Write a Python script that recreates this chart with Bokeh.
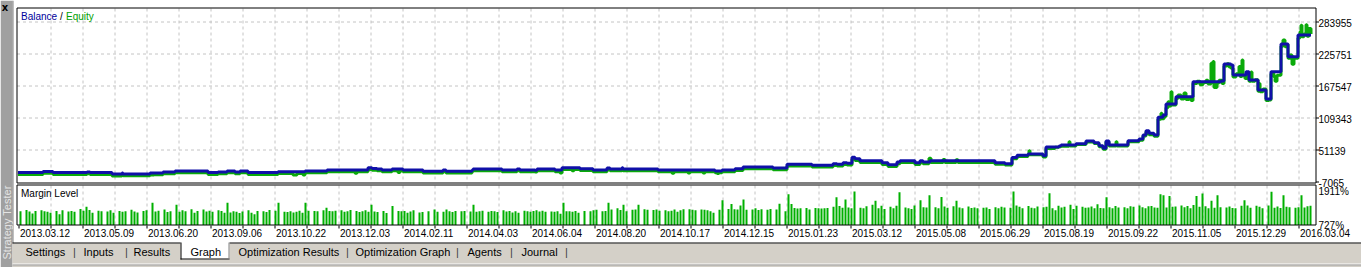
import math
from bokeh.plotting import figure
from bokeh.models import Range1d
from bokeh.core.properties import value
from bokeh.embed import file_html
from bokeh.resources import INLINE

# ---------------- data ----------------
date_labels = ["2013.03.12", "2013.05.09", "2013.06.20", "2013.09.06", "2013.10.22",
               "2013.12.03", "2014.02.11", "2014.04.03", "2014.06.04", "2014.08.20",
               "2014.10.17", "2014.12.15", "2015.01.23", "2015.03.12", "2015.05.08",
               "2015.06.29", "2015.08.19", "2015.09.22", "2015.11.05", "2015.12.29",
               "2016.03.04"]
y_ticks = [-7065, 51139, 109343, 167547, 225751, 283955]
margin_ticks = [727, 1911]

bal_x = [-1, 24, 34, 68, 71, 93, 103, 104, 131, 144, 156, 189, 199, 208, 216, 221, 229,
         259, 286, 308, 349, 353, 358, 363, 373, 384, 404, 424, 427, 453, 454, 483, 498,
         501, 516, 518, 536, 543, 561, 574, 588, 591, 603, 604, 639, 696, 703, 716, 724,
         754, 768, 793, 814, 818, 824, 828, 833, 836, 841, 863, 869, 878, 881, 896, 901,
         904, 911, 976, 986, 993, 998, 1009, 1024, 1027, 1040, 1042, 1057, 1067, 1075,
         1080, 1084, 1087, 1090, 1109, 1120, 1124, 1127, 1130, 1135, 1139, 1144, 1147,
         1157, 1174, 1202, 1205, 1212, 1214, 1227, 1230, 1239, 1247, 1252, 1262, 1269,
         1279, 1292]
balance = [10000, 12000, 10000, 11200, 10000, 7600, 9500, 7600, 9400, 11000, 12900, 10000,
           11300, 12900, 11300, 12900, 10000, 11600, 12900, 14700, 18900, 17700, 16500,
           14700, 16500, 14700, 12400, 14700, 12400, 14700, 16500, 14700, 16500, 14700,
           14200, 16500, 14700, 18900, 17100, 14700, 18400, 16500, 18900, 16500, 14700,
           12900, 14700, 17100, 20200, 18400, 25100, 23300, 26300, 25100, 28000, 26900,
           37900, 35300, 31700, 28000, 24400, 29300, 31700, 28000, 31700, 29300, 31700,
           28000, 26300, 37300, 41500, 43900, 40500, 56600, 58400, 60200, 62600, 67500,
           64400, 59000, 54200, 67500, 60200, 68100, 71200, 78400, 86300, 81500, 78400,
           110600, 114800, 134800, 148100, 175400, 176500, 207600, 205800, 187600, 193600,
           178500, 160300, 143900, 193600, 244000, 220900, 260300, 260300]

eq_x = [-1, 24, 34, 68, 71, 93, 103, 104, 131, 135, 144, 156, 189, 199, 208, 216, 221, 229,
        259, 274, 278, 284, 286, 308, 336, 338, 349, 353, 358, 363, 373, 379, 381, 384, 404,
        424, 427, 453, 454, 483, 498, 501, 516, 518, 536, 541, 543, 553, 555, 561, 574, 588,
        591, 603, 604, 639, 653, 655, 669, 671, 684, 686, 696, 698, 700, 703, 716, 724, 754,
        768, 793, 814, 818, 824, 828, 833, 836, 841, 863, 869, 878, 881, 896, 901, 904, 910,
        912, 924, 926, 937, 939, 976, 986, 993, 998, 1009, 1010, 1011, 1024, 1027, 1036,
        1040, 1042, 1050, 1051, 1057, 1067, 1075, 1080, 1084, 1087, 1090, 1097, 1098, 1109,
        1120, 1124, 1127, 1130, 1135, 1139, 1142, 1143, 1145, 1147, 1149, 1150, 1152, 1153,
        1157, 1159, 1162, 1165, 1167, 1170, 1172, 1174, 1178, 1181, 1184, 1187, 1189, 1192,
        1193, 1194, 1195, 1198, 1200, 1203, 1205, 1208, 1210, 1212, 1214, 1217, 1220, 1221,
        1223, 1224, 1226, 1228, 1230, 1232, 1233, 1236, 1239, 1240, 1241, 1244, 1247, 1250,
        1252, 1255, 1256, 1258, 1262, 1264, 1266, 1268, 1269, 1271, 1273, 1275, 1279, 1281,
        1282, 1283, 1285, 1287, 1288, 1290, 1292]
equity = [6800, 8800, 6800, 8000, 6800, 4000, 6000, 4200, 5500, 6200, 7800, 9700, 6800,
          8100, 9700, 8100, 9700, 6800, 8400, 5500, 8400, 5500, 9700, 11500, 9000, 11500,
          15700, 14500, 13300, 11500, 13300, 10000, 13300, 11500, 9100, 11500, 9200, 11500,
          13300, 11500, 13300, 11500, 11200, 13300, 11500, 9500, 15700, 13500, 15700, 14000,
          11500, 15200, 13300, 15700, 13300, 11500, 9000, 11500, 9500, 11500, 9500, 11500,
          9700, 8500, 9700, 11500, 14000, 17000, 15200, 21900, 20100, 23100, 21900, 24900,
          23700, 34700, 32200, 28500, 24800, 21200, 26000, 28500, 24800, 28500, 26100, 36000,
          28500, 34000, 28500, 33500, 28500, 25000, 24000, 35000, 39500, 42000, 50000, 42500,
          38500, 54000, 56000, 57000, 58000, 66000, 58500, 61000, 65500, 63000, 57000, 52500,
          65500, 58500, 66000, 58500, 66000, 69000, 76500, 84000, 79000, 76000, 107000,
          118000, 108000, 112000, 128000, 139000, 131000, 157000, 133000, 145000, 151000,
          144000, 155000, 143000, 146000, 141000, 172000, 176000, 170000, 174000, 178000,
          171000, 209000, 176000, 212000, 165000, 173000, 178000, 172000, 204000, 208000,
          202000, 200000, 184000, 190000, 203000, 185000, 215000, 186000, 181000, 190000,
          176000, 193000, 176000, 179000, 158000, 172000, 157000, 162000, 141000, 142000,
          190000, 184000, 176000, 187000, 240000, 251000, 239000, 243000, 218000, 224000,
          207000, 218000, 255000, 266000, 278000, 257000, 262000, 279000, 258000, 272000,
          262000]

# margin level per deal slot, % (0 = no bar)
margin_level = [
    1200, 0, 1240, 1190, 1120, 1210, 0, 1230, 1200, 1180,
    1150, 0, 1210, 1100, 1230, 0, 1190, 1210, 1180, 0,
    1280, 1220, 1350, 1240, 1150, 0, 1220, 1200, 0, 1190,
    1230, 1150, 0, 1210, 1180, 1200, 0, 1250, 1190, 1160,
    0, 1210, 1230, 0, 1490, 1190, 1220, 0, 1260, 1170,
    1200, 0, 1420, 1180, 1230, 1200, 0, 1270, 1150, 1210,
    0, 1260, 1190, 1220, 1180, 0, 1230, 1210, 1150, 1490,
    1160, 1200, 1180, 1140, 1190, 0, 1230, 1150, 1100, 1210,
    0, 1200, 1170, 1240, 0, 1220,
    1490, 0, 1180, 1170, 1200, 1160, 1180, 1220, 1150, 1490,
    1220, 0, 1210, 1200, 0, 1230, 1320, 1210, 1200, 1220,
    0, 1230, 1180, 1200, 1240, 0, 1210, 1170, 1200, 1230,
    1180, 1420, 1190, 1170, 0, 1210, 1140, 0, 1380, 0,
    1210, 1200, 1210, 1150, 1190, 1230, 0, 1160, 1170, 0,
    1200, 0, 1260, 1180, 0, 1180, 1260, 1200, 1170, 1210,
    0, 1200, 1210, 0, 1190, 1420, 1180, 1200, 1220, 0,
    1180, 1210, 1200, 1170, 0, 1230, 1190, 1210, 1160, 1200,
    1150, 0, 1220, 1200, 1180, 1210,
    1230, 1190, 1220, 1180, 0, 1190, 1180, 1200, 1110, 1490,
    1200, 1200, 1180, 1210, 1150, 0, 1210, 0, 1200, 1230,
    1250, 0, 1200, 1210, 1490, 1260, 0, 1300, 1240, 1420,
    1200, 0, 1250, 1260, 1420, 0, 1270, 1250, 0, 1240,
    1260, 1220, 0, 1230, 1200, 1220, 1260, 1180, 1230, 1270,
    0, 1270, 1250, 1230, 0, 1260, 1250, 1230, 1200, 1150,
    0, 1250, 1580, 0, 1280, 1450, 1270, 1260, 1400, 1600,
    1250, 0, 1260, 1300, 1240, 1270, 0, 1250, 1280, 0,
    1260, 1460, 0, 1200, 1780, 1450,
    1310, 1290, 1300, 0, 1310, 1260, 0, 1310, 1300, 1290,
    1300, 1310, 0, 1350, 1680, 1380, 1320, 1600, 1330, 1300,
    1880, 0, 1320, 1300, 1370, 0, 1420, 1560, 1300, 1390,
    1280, 0, 1350, 1300, 1390, 1850, 0, 1330, 1300, 1280,
    1400, 0, 1580, 1340, 1330, 1750, 0, 1340, 1300, 1690,
    1360, 1320, 0, 1370, 1560, 1330, 1300, 0, 1360, 1310,
    1330, 1300, 0, 1320, 1330, 1280, 0, 1340, 1300, 1350,
    1330, 0, 1320, 1880, 1400, 1350, 1300, 0, 1380, 1320,
    1300, 1360, 0, 1340, 1350, 1820,
    1300, 1230, 1390, 1330, 1350, 0, 1420, 1280, 1390, 0,
    1350, 1320, 1330, 1360, 1300, 1440, 1310, 1300, 1680, 1340,
    1300, 1380, 1330, 0, 1340, 1300, 1370, 1350, 0, 1400,
    1340, 1300, 1370, 1380, 1330, 1320, 1780, 1750, 1330, 1720,
    1350, 1360, 0, 1400, 1340, 1380, 1300, 1410, 1720, 1350,
    1810, 1370, 1300, 1560, 1320, 1750, 1340, 0, 1330, 1360,
    1310, 1300, 0, 1390, 1580, 1400, 1320, 0, 1390, 1350,
    1300, 0, 1400, 1870, 1320, 1360, 1310, 1750, 1350, 1340,
    0, 1320, 1340, 1750, 1330, 1370, 1390,
]

tab_labels = ["Settings", "Inputs", "Results", "Graph", "Optimization Results",
              "Optimization Graph", "Agents", "Journal"]

# ---------------- layout (pixels) ----------------
W, H = 1361, 267
X_ORIGIN = 18.5          # pixel centre of x = 0
GRID_PX = 32             # vertical grid spacing
LABEL_EVERY = 2          # date label every second grid line
ROW_Y0 = 181.5           # row of first y tick
ROW_PER_TICK = 32.0
ML_ROW_BOT, ML_ROW_TOP = 224.5, 190.0
FRAME_L, FRAME_R = 16.5, 1315.5
MAIN_T, MAIN_B = 7.5, 182.5
ML_T, ML_B = 184.5, 224.5
SLOT = 3                 # deal slot width in x units

CHART_FONT = value("Liberation Sans")
TAB_FONT = value("Liberation Sans")
CHART_SIZE = "10px"
BLUE = "#1010a8"
GREEN = "#0aaa0a"
BAR_GREEN = "#00b000"
GRID = "#c4c4c4"
PANEL = "#d4d0c8"

bal_per_row = (y_ticks[1] - y_ticks[0]) / ROW_PER_TICK
def bal_at(row):
    return y_ticks[0] + (ROW_Y0 - row) * bal_per_row
ml_per_row = (margin_ticks[1] - margin_ticks[0]) / (ML_ROW_BOT - ML_ROW_TOP)
def ml_at(row):
    return margin_ticks[0] + (ML_ROW_BOT - row) * ml_per_row

p = figure(width=W, height=H, x_range=Range1d(0, W), y_range=Range1d(H, 0),
           output_backend="svg", toolbar_location=None, min_border=0,
           x_axis_location=None, y_axis_location=None)
p.grid.visible = False
p.outline_line_color = None
p.background_fill_color = "white"
p.border_fill_color = "white"
p.extra_x_ranges = {"t": Range1d(-X_ORIGIN, W - X_ORIGIN)}
p.extra_y_ranges = {"bal": Range1d(bal_at(H), bal_at(0)), "ml": Range1d(ml_at(H), ml_at(0))}

# ---- chrome ----
p.quad(left=[0], right=[12], top=[0], bottom=[H], fill_color="#a0a0a0", line_color=None)
p.segment(x0=[12.5], x1=[12.5], y0=[0], y1=[243], line_color="#808080", line_width=1)
p.quad(left=[12], right=[W], top=[243], bottom=[H], fill_color=PANEL, line_color=None)
p.segment(x0=[12], x1=[W], y0=[263.5], y1=[263.5], line_color="#ffffff", line_width=1)
p.segment(x0=[12], x1=[W], y0=[264.5], y1=[264.5], line_color="#a0a0a0", line_width=1)
p.text(x=[6.5], y=[222], text=["Strategy Tester"], angle=math.pi / 2,
       text_font=TAB_FONT, text_font_size="11px", text_color="#e4e4e4",
       text_align="center", text_baseline="middle")
p.text(x=[4.5], y=[7], text=["x"], text_font=value("DejaVu Sans"), text_font_style="bold",
       text_font_size="10px", text_color="black", text_align="center", text_baseline="middle")

# tabs
tab_x = [25, 83, 133, 190, 238, 355, 467, 521]
sep_x = [74, 126, 347, 457, 511, 566]
p.quad(left=[180], right=[229], top=[242], bottom=[259], fill_color="white", line_color=None)
p.segment(x0=[12, 229], x1=[180, W], y0=[242.5, 242.5], y1=[242.5, 242.5],
          line_color="black", line_width=1)
p.segment(x0=[180.5, 180, 228.5], x1=[180.5, 229, 228.5], y0=[242, 258.5, 242],
          y1=[259, 258.5, 259], line_color=["black", "black", "#808080"], line_width=1)
p.text(x=tab_x, y=[251] * len(tab_x), text=tab_labels, text_font=TAB_FONT,
       text_font_size="11px", text_color="black", text_baseline="middle")
p.text(x=sep_x, y=[251] * len(sep_x), text=["|"] * len(sep_x), text_font=TAB_FONT,
       text_font_size="11px", text_color="#404040", text_baseline="middle", text_align="center")

# ---- grid ----
n_grid = int((FRAME_R - X_ORIGIN) // GRID_PX)
gx = [k * GRID_PX for k in range(1, n_grid + 1)]
p.segment(x0=gx, x1=gx, y0=[MAIN_T + 0.5] * len(gx), y1=[MAIN_B - 0.5] * len(gx),
          x_range_name="t", line_color=GRID, line_dash="3 3", line_width=1)
p.segment(x0=gx, x1=gx, y0=[ML_T + 0.5] * len(gx), y1=[ML_B - 0.5] * len(gx),
          x_range_name="t", line_color=GRID, line_dash="3 3", line_width=1)
hy = y_ticks[1:]
p.segment(x0=[FRAME_L] * len(hy), x1=[FRAME_R] * len(hy), y0=hy, y1=hy, y_range_name="bal",
          line_color=GRID, line_dash="3 3", line_width=1)

# ---- data ----
p.step(x=eq_x, y=equity, mode="after", x_range_name="t", y_range_name="bal",
       line_color=GREEN, line_width=3)
p.step(x=bal_x, y=balance, mode="after", x_range_name="t", y_range_name="bal",
       line_color=BLUE, line_width=3)

bx = [1.5 + SLOT * i for i, v in enumerate(margin_level) if v > 0]
bt = [v for v in margin_level if v > 0]
p.vbar(x=bx, top=bt, bottom=margin_ticks[0], width=2, x_range_name="t", y_range_name="ml",
       fill_color=BAR_GREEN, line_color=None)

# ---- frames ----
p.quad(left=[FRAME_L], right=[FRAME_R], top=[MAIN_T], bottom=[MAIN_B], fill_color=None,
       line_color="black", line_width=1)
p.quad(left=[FRAME_L], right=[FRAME_R], top=[ML_T], bottom=[ML_B], fill_color=None,
       line_color="black", line_width=1)

# ---- axes: ticks and labels ----
tx = [k * GRID_PX for k in range(0, n_grid + 1)]
p.segment(x0=tx, x1=tx, y0=[225] * len(tx), y1=[228] * len(tx), x_range_name="t",
          line_color="black", line_width=1)
lx = [k * GRID_PX * LABEL_EVERY for k in range(len(date_labels))]
p.text(x=lx, y=[232.5] * len(lx), text=date_labels, x_range_name="t", x_offset=1,
       text_font=CHART_FONT, text_font_size=CHART_SIZE, text_color="black",
       text_baseline="middle", text_align="left")

p.segment(x0=[FRAME_R] * len(y_ticks), x1=[FRAME_R + 3] * len(y_ticks), y0=y_ticks,
          y1=y_ticks, y_range_name="bal", line_color="black", line_width=1)
p.text(x=[1318] * len(y_ticks), y=y_ticks, text=[str(v) for v in y_ticks], y_range_name="bal",
       y_offset=1, text_font=CHART_FONT, text_font_size=CHART_SIZE, text_color="black",
       text_baseline="middle", text_align="left")
p.text(x=[1318] * 2, y=margin_ticks, text=[f"{v}%" for v in margin_ticks], y_range_name="ml",
       y_offset=[0, 1], text_font=CHART_FONT, text_font_size=CHART_SIZE, text_color="black",
       text_baseline="middle", text_align="left")

# ---- pane titles ----
p.text(x=[20.5, 59.5, 65.5], y=[15.5] * 3, text=["Balance", "/", "Equity"],
       text_color=["#00009c", "black", "#00a000"], text_font=CHART_FONT,
       text_font_size=CHART_SIZE, text_baseline="middle", text_align="left")
p.text(x=[20.5], y=[192.5], text=["Margin Level"], text_color="black", text_font=CHART_FONT,
       text_font_size=CHART_SIZE, text_baseline="middle", text_align="left")

open("out.html", "w").write(file_html(p, INLINE))
